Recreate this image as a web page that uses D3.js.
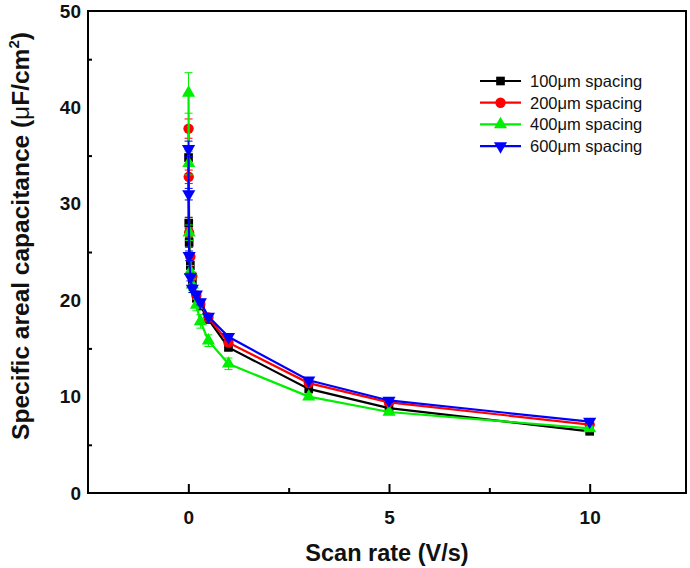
<!DOCTYPE html>
<html>
<head>
<meta charset="utf-8">
<script src="https://cdn.jsdelivr.net/npm/d3@7"></script>
<style>
  body { margin: 0; background: #fff; }
  text { font-family: "Liberation Sans", Arial, sans-serif; }
</style>
</head>
<body>
<svg class="chart"></svg>
<script>
// scan rates (V/s)
const scanRates = [0.005, 0.01, 0.02, 0.05, 0.1, 0.2, 0.3, 0.5, 1, 3, 5, 10];
const sp100 = [34.8, 28.0, 26.0, 23.6, 22.0, 20.2, 19.4, 18.0, 15.1, 10.8, 8.8, 6.4];
const sp200 = [37.8, 32.8, 27.0, 24.5, 22.5, 20.5, 19.6, 18.2, 15.6, 11.4, 9.4, 7.1];
const sp400 = [41.5, 34.2, 27.0, 23.0, 21.6, 19.5, 17.8, 15.8, 13.4, 10.0, 8.4, 6.7];
const sp600 = [35.7, 31.0, 24.6, 22.4, 21.2, 20.6, 19.8, 18.3, 16.2, 11.7, 9.6, 7.4];
const err100 = [0.8, 0.6, 0.5, 0.4, 0.4, 0.3, 0.3, 0.3, 0.3, 0.2, 0.2, 0.2];
const err200 = [1.0, 0.7, 0.5, 0.4, 0.4, 0.3, 0.3, 0.3, 0.3, 0.2, 0.2, 0.2];
const err400 = [2.1, 1.2, 0.8, 0.6, 0.6, 0.6, 0.7, 0.6, 0.6, 0.3, 0.2, 0.2];
const err600 = [0.8, 0.6, 0.5, 0.4, 0.4, 0.3, 0.3, 0.3, 0.3, 0.2, 0.2, 0.2];
const names = ["100\u03bcm spacing", "200\u03bcm spacing", "400\u03bcm spacing", "600\u03bcm spacing"];
const colors = ["#000000", "#ff0000", "#00ee00", "#0000ff"];
const shapes = [d3.symbolSquare, d3.symbolCircle, d3.symbolTriangle, d3.symbolTriangle];
const xTicks = [0, 5, 10];
const yTicks = [0, 10, 20, 30, 40, 50];

const series = [sp100, sp200, sp400, sp600].map((v, i) => ({
    name: names[i], color: colors[i], shape: shapes[i], flip: i === 3,
    err: [err100, err200, err400, err600][i],
    pts: v.map((y, j) => [scanRates[j], y])
}));

const width = 690, height = 568;
const m = {left: 88, right: 4, top: 11, bottom: 75};
const font = "Liberation Sans, Arial, sans-serif";

const svg = d3.select(".chart").attr("width", width).attr("height", height);

const x = d3.scaleLinear().domain([-2.5, 12.4]).range([m.left, width - m.right]);
const y = d3.scaleLinear().domain([0, 50]).range([height - m.bottom, m.top]);

// inward ticks
svg.append("g")
    .attr("transform", `translate(0,${y(0)})`)
    .call(d3.axisBottom(x).tickValues([2.5, 7.5]).tickSize(-5).tickFormat(""))
    .call(g => g.select(".domain").remove())
    .selectAll("line").attr("stroke-width", 2);
svg.append("g")
    .attr("transform", `translate(0,${y(0)})`)
    .call(d3.axisBottom(x).tickValues(xTicks).tickSize(-9).tickPadding(18))
    .call(g => g.select(".domain").remove())
    .call(g => g.selectAll("line").attr("stroke-width", 2))
    .call(g => g.selectAll("text").attr("font-size", 19).attr("font-weight", "bold")
        .attr("font-family", font).attr("fill", "#111"));
svg.append("g")
    .attr("transform", `translate(${x(-2.5)},0)`)
    .call(d3.axisLeft(y).tickValues(yTicks).tickSize(0).tickPadding(7))
    .call(g => g.select(".domain").remove())
    .call(g => g.selectAll("text").attr("font-size", 19).attr("font-weight", "bold")
        .attr("font-family", font).attr("fill", "#111"));
svg.append("g")
    .attr("transform", `translate(${x(-2.5)},0)`)
    .call(d3.axisLeft(y).tickValues([5, 15, 25, 35, 45]).tickSize(-4).tickFormat(""))
    .call(g => g.select(".domain").remove())
    .selectAll("line").attr("stroke-width", 2);

// frame
svg.append("rect")
    .attr("x", x(-2.5)).attr("y", y(50))
    .attr("width", x(12.4) - x(-2.5)).attr("height", y(0) - y(50))
    .attr("fill", "none").attr("stroke", "#000").attr("stroke-width", 2);

const line = d3.line().x(d => x(d[0])).y(d => y(d[1]));

series.forEach(s => {
    const g = svg.append("g");
    g.append("path").datum(s.pts).attr("d", line)
        .attr("fill", "none").attr("stroke", s.color).attr("stroke-width", 2.2);
    // error bars
    s.pts.forEach((p, j) => {
        const e = s.err[j], cx = x(p[0]);
        g.append("line").attr("x1", cx).attr("x2", cx)
            .attr("y1", y(p[1] - e)).attr("y2", y(p[1] + e))
            .attr("stroke", s.color).attr("stroke-width", 1);
        [p[1] - e, p[1] + e].forEach(v => g.append("line")
            .attr("x1", cx - 4).attr("x2", cx + 4).attr("y1", y(v)).attr("y2", y(v))
            .attr("stroke", s.color).attr("stroke-width", 1));
    });
    g.selectAll(".mk").data(s.pts).enter().append("path")
        .attr("d", d3.symbol().type(s.shape).size(s.shape === d3.symbolCircle ? 85 : 75))
        .attr("transform", d => `translate(${x(d[0])},${y(d[1])})${s.flip ? " rotate(180)" : ""}`)
        .attr("fill", s.color);
});

// legend
const leg = svg.append("g").attr("transform", "translate(480,81)");
series.forEach((s, i) => {
    const r = leg.append("g").attr("transform", `translate(0,${i * 21.7})`);
    r.append("line").attr("x1", 0).attr("x2", 41).attr("stroke", s.color).attr("stroke-width", 2.2);
    r.append("path")
        .attr("d", d3.symbol().type(s.shape).size(s.shape === d3.symbolCircle ? 85 : 75))
        .attr("transform", `translate(20.5,0)${s.flip ? " rotate(180)" : ""}`)
        .attr("fill", s.color);
    r.append("text").attr("x", 50).attr("dy", "0.36em").attr("font-size", 16.5)
        .attr("fill", "#111").text(s.name);
});

// axis titles
svg.append("text")
    .attr("x", 387).attr("y", 561)
    .attr("text-anchor", "middle").attr("font-size", 23.5).attr("font-weight", "bold")
    .attr("fill", "#111")
    .text("Scan rate (V/s)");
const yl = svg.append("text")
    .attr("transform", "translate(29,236) rotate(-90)")
    .attr("text-anchor", "middle").attr("font-size", 24.5).attr("font-weight", "bold")
    .attr("fill", "#111");
yl.append("tspan").text("Specific areal capacitance (");
yl.append("tspan").attr("font-weight", "normal").text("\u03bc");
yl.append("tspan").text("F/cm");
yl.append("tspan").attr("font-size", 15).attr("dy", -10).text("2");
yl.append("tspan").attr("dy", 10).text(")");
</script>
</body>
</html>
